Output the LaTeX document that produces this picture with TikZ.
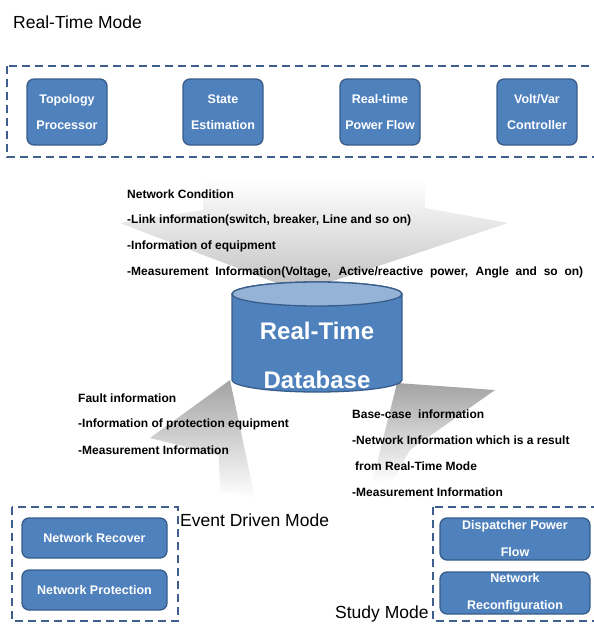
\documentclass[tikz,border=0pt]{standalone}
\usepackage{fontspec}
\setmainfont{Liberation Sans}
\definecolor{boxfill}{HTML}{4F81BD}
\definecolor{boxline}{HTML}{385D8A}
\definecolor{dashc}{HTML}{3E5F8E}
\definecolor{cyltop}{HTML}{95B3D7}
\definecolor{arrowgrey}{HTML}{C0C0C0}
\tikzset{
  modebox/.style={draw=dashc, line width=2.6pt, dash pattern=on 8pt off 5pt},
  procbox/.style={draw=boxline, line width=1.3pt, fill=boxfill, rounded corners=7pt,
     text=white, align=center, font=\fontsize{12.5}{26}\selectfont\bfseries, inner sep=0pt},
  infotext/.style={anchor=west, inner sep=0pt, font=\fontsize{12}{13}\selectfont\bfseries},
  modetitle/.style={anchor=west, inner sep=0pt, font=\fontsize{17.5}{19}\selectfont},
  dbtext/.style={text=white, inner sep=0pt, font=\fontsize{24}{26}\selectfont\bfseries},
}
\begin{document}
\begin{tikzpicture}[x=1pt,y=-1pt]
\path[use as bounding box] (0,0) rectangle (594,624);
\clip (0,0) rectangle (594,624);

% big grey arrows
\shade[top color=white, middle color=white!80!arrowgrey, bottom color=arrowgrey]
  (203,180) -- (425,180) -- (425,208) -- (508,223) -- (300,292) -- (120,223) -- (203,210) -- cycle;
\shade[top color=arrowgrey!85!black, bottom color=white]
  (230,380) -- (150,438) -- (219,455) -- (220,492) -- (255,498) -- cycle;
\shade[top color=arrowgrey!85!black, bottom color=white]
  (397,383) -- (495,390) -- (410,450) -- (393,480) -- (372,483) -- cycle;

% title
\node[modetitle] (rtm) at (13,22) {Real-Time Mode};

% real-time mode box
\draw[modebox] (7,66) rectangle (610,157);
\node[procbox, minimum width=80pt, minimum height=66pt] (tp) at (67,112) {Topology\\Processor};
\node[procbox, minimum width=80pt, minimum height=66pt] (se) at (223,112) {State\\Estimation};
\node[procbox, minimum width=80pt, minimum height=66pt] (pf) at (380,112) {Real-time\\Power Flow};
\node[procbox, minimum width=80pt, minimum height=66pt] (vv) at (537,112) {Volt/Var\\Controller};

% network condition text
\node[infotext] (nc1) at (127,194) {Network Condition};
\node[infotext] (nc2) at (127,220) {-Link information(switch, breaker, Line and so on)};
\node[infotext] (nc3) at (127,246) {-Information of equipment};
\node[infotext] (nc4) at (127,272) {\makebox[456pt][s]{-Measurement Information(Voltage, Active/reactive power, Angle and so on)}};

% database cylinder
\draw[draw=boxline, line width=1.3pt, fill=boxfill]
  (232,294) -- (232,380) arc[start angle=180, end angle=0, x radius=85, y radius=12]
  -- (402,294) arc[start angle=0, end angle=-180, x radius=85, y radius=12] -- cycle;
\draw[draw=boxline, line width=1.3pt, fill=cyltop] (317,294) ellipse[x radius=85, y radius=12];
\node[dbtext] (db1) at (317,331) {Real-Time};
\node[dbtext] (db2) at (317,380) {Database};

% fault information text
\node[infotext] (fi1) at (78,398) {Fault information};
\node[infotext] (fi2) at (78,424) {-Information of protection equipment};
\node[infotext] (fi3) at (78,450) {-Measurement Information};

% base-case text
\node[infotext] (bc1) at (352,414) {Base-case \ information};
\node[infotext] (bc2) at (352,440) {-Network Information which is a result};
\node[infotext] (bc3) at (355,466) {from Real-Time Mode};
\node[infotext] (bc4) at (352,492) {-Measurement Information};

% event driven mode
\draw[modebox] (12,507) rectangle (178,621);
\node[procbox, minimum width=145pt, minimum height=40pt] (nr) at (94.5,538) {Network Recover};
\node[procbox, minimum width=145pt, minimum height=40pt] (np) at (94.5,590) {Network Protection};
\node[modetitle] (edm) at (180,520) {Event Driven Mode};

% study mode
\draw[modebox] (433,507) rectangle (610,621);
\node[procbox, minimum width=150pt, minimum height=42pt, font=\fontsize{12.5}{27}\selectfont\bfseries] (dpf) at (515,539) {Dispatcher Power\\Flow};
\node[procbox, minimum width=150pt, minimum height=42pt, font=\fontsize{12.5}{27}\selectfont\bfseries] (nrc) at (515,593) {Network\\Reconfiguration};
\node[modetitle] (sm) at (335,614) {Study Mode};
\end{tikzpicture}
\end{document}
